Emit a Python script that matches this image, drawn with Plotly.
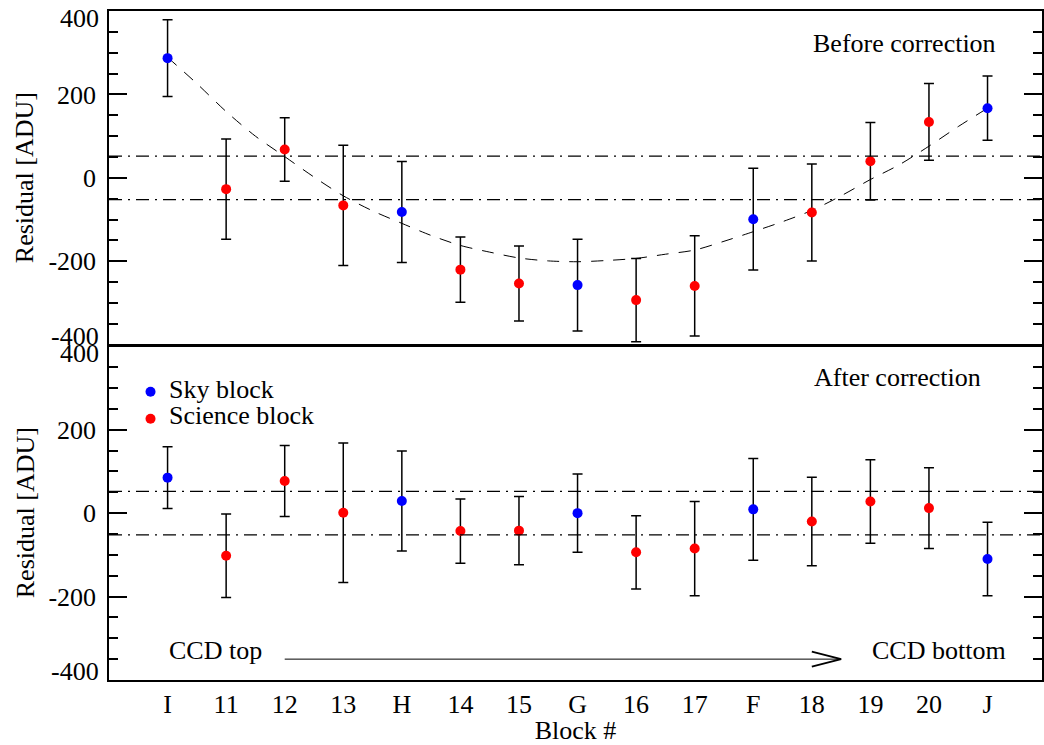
import plotly.graph_objects as go

# Read-out blocks along the CCD, from top to bottom
blocks = ["I", "11", "12", "13", "H", "14", "15", "G", "16", "17", "F", "18", "19", "20", "J"]
block_kind = ["sky", "science", "science", "science", "sky", "science", "science", "sky",
              "science", "science", "sky", "science", "science", "science", "sky"]

# Residuals [ADU] and their 1-sigma errors, before and after the correction
resid_before = [287, -27, 68, -66, -82, -220, -253, -257, -293, -259, -99, -83, 40, 134, 167]
err_before = [92, 120, 76, 144, 121, 78, 90, 110, 100, 120, 122, 116, 93, 92, 77]

resid_after = [85, -102, 77, 1, 29, -43, -42, 0, -94, -85, 9, -20, 28, 12, -110]
err_after = [74, 100, 85, 167, 120, 77, 82, 94, 88, 113, 122, 106, 100, 97, 88]

# Smooth trend of the uncorrected residuals along the block axis
trend_pos = [1.0, 1.5, 2.0, 2.5, 3.0, 3.5, 4.0, 4.5, 5.0, 5.5, 6.0, 6.5, 7.0, 7.5, 8.0,
             8.5, 9.0, 9.5, 10.0, 10.5, 11.0, 11.5, 12.0, 12.5, 13.0, 13.5, 14.0, 14.5, 15.0]
trend_resid = [289, 226, 159, 100, 51, 2, -43, -79, -109, -138, -162, -178, -192, -199, -201,
               -198, -193, -183, -173, -152, -129, -105, -78, -43, -4, 32, 76, 123, 167]

band = 52                      # +/- tolerance band [ADU]
y_ticks = [-400, -200, 0, 200, 400]
y_range = [-400, 400]

# Arrow marking the read direction (bottom panel)
arrow_y = -350
arrow_x0, arrow_x1 = 3.0, 12.5
head_len, head_half = 0.5, 18

kinds = [("sky", "#0000ff", "Sky block"), ("science", "#ff0000", "Science block")]
positions = list(range(1, len(blocks) + 1))

FONT = "Liberation Serif"
FS = 26
fig = go.Figure()


def add_panel(resid, err, xa, ya):
    for kind, color, name in kinds:
        sel = [i for i, k in enumerate(block_kind) if k == kind]
        fig.add_trace(go.Scatter(
            x=[positions[i] for i in sel],
            y=[resid[i] for i in sel],
            error_y=dict(type="data", array=[err[i] for i in sel], color="black",
                         thickness=1.5, width=5),
            mode="markers", marker=dict(color=color, size=10),
            name=name, showlegend=False, xaxis=xa, yaxis=ya))


# Trend curve in the upper panel
fig.add_trace(go.Scatter(x=trend_pos, y=trend_resid, mode="lines",
                         line=dict(color="black", width=1, dash="12px,10px", shape="spline", smoothing=0.8),
                         showlegend=False, xaxis="x", yaxis="y", hoverinfo="skip"))
add_panel(resid_before, err_before, "x", "y")
add_panel(resid_after, err_after, "x2", "y2")

x_range = [0, 15.93]
xcommon = dict(range=x_range, showline=True, mirror=True, linecolor="black", linewidth=1.5,
               ticks="", showgrid=False, zeroline=False, tickvals=positions)
ycommon = dict(range=y_range, tickvals=y_ticks,
               ticktext=["" if abs(v) == 400 else str(v) for v in y_ticks],
               ticks="inside", ticklen=18, tickwidth=1.5, tickcolor="black",
               minor=dict(dtick=50, tick0=0, ticks="inside", ticklen=9, tickwidth=1.5,
                          tickcolor="black", showgrid=False),
               showline=True, mirror="ticks", linecolor="black", linewidth=1.5,
               showgrid=False, zeroline=False, ticklabelstandoff=6)

# small gap so the shared border of the two panels is drawn as one line
gap = 0.00112

fig.update_layout(
    width=1044, height=745,
    margin=dict(l=109, r=0, t=11, b=65),
    paper_bgcolor="white", plot_bgcolor="white",
    font=dict(family=FONT, size=FS, color="black"),
    showlegend=False,
    xaxis=dict(**xcommon, anchor="y", showticklabels=False),
    xaxis2=dict(**xcommon, anchor="y2", showticklabels=True, ticktext=blocks,
                title=dict(text="Block #", standoff=7, font=dict(size=FS))),
    yaxis=dict(**ycommon, domain=[0.5 + gap, 1], anchor="x"),
    yaxis2=dict(**ycommon, domain=[0, 0.5 - gap], anchor="x2"),
)

shapes = []
for ya in ("y", "y2"):
    for lvl in (band, -band):
        shapes.append(dict(type="line", xref="x domain" if ya == "y" else "x2 domain",
                           yref=ya, x0=0, x1=1, y0=lvl, y1=lvl,
                           line=dict(color="black", width=1.2, dash="13px,6px,2px,6px")))
# read-direction arrow
shapes.append(dict(type="line", xref="x2", yref="y2", x0=arrow_x0, x1=arrow_x1,
                   y0=arrow_y, y1=arrow_y, line=dict(color="black", width=1)))
shapes.append(dict(type="path", xref="x2", yref="y2",
                   path=f"M {arrow_x1 - head_len},{arrow_y + head_half} L {arrow_x1},{arrow_y} "
                        f"L {arrow_x1 - head_len},{arrow_y - head_half}",
                   line=dict(color="black", width=2)))
# legend dots
legend_x = 0.0445
for (kind, color, name), ly in zip(kinds, (0.4309, 0.3906)):
    shapes.append(dict(type="circle", xref="paper", yref="paper", xsizemode="pixel",
                       ysizemode="pixel", xanchor=legend_x, yanchor=ly, x0=-5, x1=5, y0=-5, y1=5,
                       fillcolor=color, line=dict(width=0)))
fig.update_layout(shapes=shapes)

ann = []
# legend labels
for (kind, color, name), ly in zip(kinds, (0.4335, 0.395)):
    ann.append(dict(text=name, xref="paper", yref="paper", x=0.0627, y=ly,
                    xanchor="left", yanchor="middle", showarrow=False))
ann += [
    dict(text="Before correction", xref="paper", yref="paper", x=0.9529, y=0.9514,
         xanchor="right", yanchor="middle", showarrow=False),
    dict(text="After correction", xref="paper", yref="paper", x=0.754, y=0.4529,
         xanchor="left", yanchor="middle", showarrow=False),
    dict(text="CCD top", xref="paper", yref="paper", x=0.0627, y=0.0448,
         xanchor="left", yanchor="middle", showarrow=False),
    dict(text="CCD bottom", xref="paper", yref="paper", x=0.8157, y=0.0448,
         xanchor="left", yanchor="middle", showarrow=False),
]
# axis titles
for yc in (0.7504, 0.2496):
    ann.append(dict(text="Residual [ADU]", xref="paper", yref="paper", x=-0.0898, y=yc,
                    textangle=-90, xanchor="center", yanchor="middle", showarrow=False))
# end-of-range tick labels, nudged inside each panel
for ya in ("y", "y2"):
    for v in (y_range[1], y_range[0]):
        ann.append(dict(text=str(v), xref="paper", yref=ya, x=0, y=v, xanchor="right",
                        yanchor="middle", xshift=-8, yshift=-7 if v > 0 else 8, showarrow=False))
fig.update_layout(annotations=ann)

fig.write_html("out.html")
